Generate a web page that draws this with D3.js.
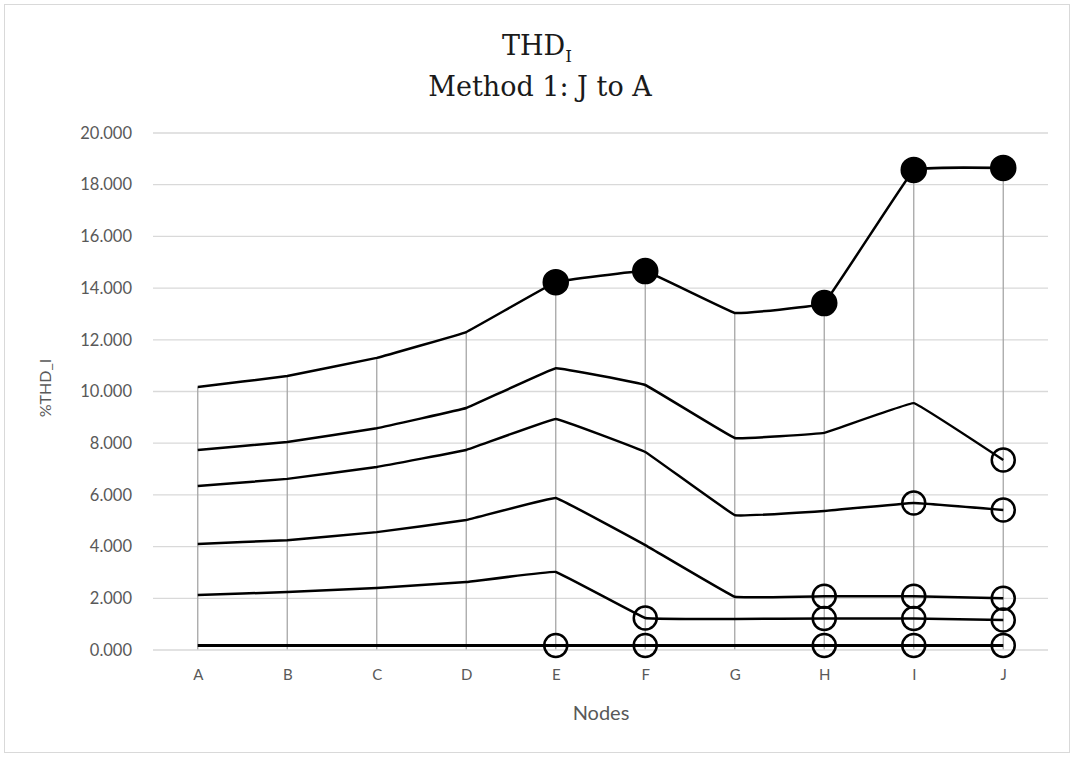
<!DOCTYPE html>
<html>
<head>
<meta charset="utf-8">
<script src="https://cdn.jsdelivr.net/npm/d3@7"></script>
<style>
  html, body { margin: 0; padding: 0; background: #fff; }
  svg { display: block; }
</style>
</head>
<body>
<svg id="chart" width="1074" height="757"></svg>
<script>
const categories = ["A","B","C","D","E","F","G","H","I","J"];
const yTicks = [0,2,4,6,8,10,12,14,16,18,20];

const series1 = [10.17,10.60,11.30,12.30,14.23,14.66,13.04,13.42,18.57,18.65];
const series2 = [7.74,8.05,8.58,9.36,10.90,10.25,8.20,8.40,9.55,7.35];
const series3 = [6.34,6.62,7.08,7.74,8.94,7.66,5.22,5.38,5.69,5.42];
const series4 = [4.10,4.25,4.56,5.03,5.88,4.06,2.06,2.08,2.08,2.00];
const series5 = [2.13,2.24,2.40,2.63,3.02,1.24,1.20,1.22,1.22,1.16];
const series6 = [0.17,0.17,0.17,0.17,0.17,0.17,0.17,0.17,0.17,0.17];

// marker flags per point: 0 none, 1 filled, 2 open
const markers1 = [0,0,0,0,1,1,0,1,1,1];
const markers2 = [0,0,0,0,0,0,0,0,0,2];
const markers3 = [0,0,0,0,0,0,0,0,2,2];
const markers4 = [0,0,0,0,0,0,0,2,2,2];
const markers5 = [0,0,0,0,0,2,0,2,2,2];
const markers6 = [0,0,0,0,2,2,0,2,2,2];

const allSeries = [
  {values: series1, markers: markers1},
  {values: series2, markers: markers2},
  {values: series3, markers: markers3},
  {values: series4, markers: markers4},
  {values: series5, markers: markers5},
  {values: series6, markers: markers6}
];

const svg = d3.select("#chart");
const W = 1074, H = 757;

// chart border
svg.append("rect").attr("x",4.5).attr("y",4.5).attr("width",W-9).attr("height",H-9)
  .attr("fill","#fff").attr("stroke","#d9d9d9").attr("stroke-width",1);

const pLeft = 153, pRight = 1048, pTop = 133, pBottom = 650;
const x = d3.scalePoint().domain(categories).range([pLeft, pRight]).padding(0.5);
const y = d3.scaleLinear().domain([0,20]).range([pBottom, pTop]);

const sansFont = "Lato, 'Open Sans', sans-serif";
const serifFont = "'DejaVu Serif', 'Liberation Serif', serif";

// horizontal gridlines
svg.append("g").selectAll("line").data(yTicks.filter(d => d>0)).join("line")
  .attr("x1", pLeft).attr("x2", pRight)
  .attr("y1", d => y(d)).attr("y2", d => y(d))
  .attr("stroke", "#d9d9d9").attr("stroke-width", 1.3);

// y axis tick labels
const yAxis = d3.axisLeft(y).tickValues(yTicks).tickFormat(d3.format(".3f")).tickSize(0).tickPadding(0);
const gy = svg.append("g").attr("transform", `translate(${pLeft-21},0)`).call(yAxis);
gy.select(".domain").remove();
gy.selectAll("text").attr("fill","#595959").style("font-family",sansFont).style("font-size","16.5px");

// drop lines from top series to axis
svg.append("g").selectAll("line").data(categories).join("line")
  .attr("x1", d => x(d)).attr("x2", d => x(d))
  .attr("y1", (d,i) => y(series1[i])).attr("y2", y(0))
  .attr("stroke", "#a6a6a6").attr("stroke-width", 1.3);

// x axis line
svg.append("line").attr("x1", pLeft).attr("x2", pRight).attr("y1", y(0)).attr("y2", y(0))
  .attr("stroke","#d9d9d9").attr("stroke-width",1.5);

// x axis labels
const xAxis = d3.axisBottom(x).tickSize(0).tickPadding(0);
const gx = svg.append("g").attr("transform", `translate(0,${y(0)+19})`).call(xAxis);
gx.select(".domain").remove();
gx.selectAll("text").attr("fill","#595959").style("font-family",sansFont).style("font-size","15px");

// lines
const line = d3.line()
  .x((d,i) => x(categories[i]))
  .y(d => y(d))
  .curve(d3.curveCardinal.tension(0.85));

const gl = svg.append("g");
allSeries.forEach((s, k) => {
  gl.append("path").datum(s.values).attr("d", line)
    .attr("fill","none").attr("stroke","#000").attr("stroke-width", k === 5 ? 3 : 2.5)
    .attr("stroke-linejoin","round");
});

// markers
const gm = svg.append("g");
allSeries.forEach(s => {
  s.values.forEach((v,i) => {
    const m = s.markers[i];
    if (!m) return;
    gm.append("circle").attr("cx", x(categories[i])).attr("cy", y(v))
      .attr("r", m === 1 ? 12.5 : 11.5)
      .attr("fill", m === 1 ? "#000" : "none")
      .attr("stroke", "#000").attr("stroke-width", m === 1 ? 1.5 : 2.5);
  });
});

// titles
const title = svg.append("text").attr("x", 537).attr("y", 55).attr("text-anchor","middle")
  .attr("fill","#1a1a1a").style("font-family",serifFont).style("font-size","27px");
title.append("tspan").text("THD");
title.append("tspan").attr("dy", 7).style("font-size","17px").text("I");

svg.append("text").attr("x", 540).attr("y", 96).attr("text-anchor","middle")
  .attr("fill","#1a1a1a").style("font-family",serifFont).style("font-size","27px")
  .text("Method 1: J to A");

// axis titles
svg.append("text").attr("transform", `translate(51,388) rotate(-90)`).attr("text-anchor","middle")
  .attr("fill","#595959").style("font-family",sansFont).style("font-size","16px")
  .text("%THD_I");

svg.append("text").attr("x", 601).attr("y", 720).attr("text-anchor","middle")
  .attr("fill","#595959").style("font-family",sansFont).style("font-size","20px")
  .text("Nodes");
</script>
</body>
</html>
